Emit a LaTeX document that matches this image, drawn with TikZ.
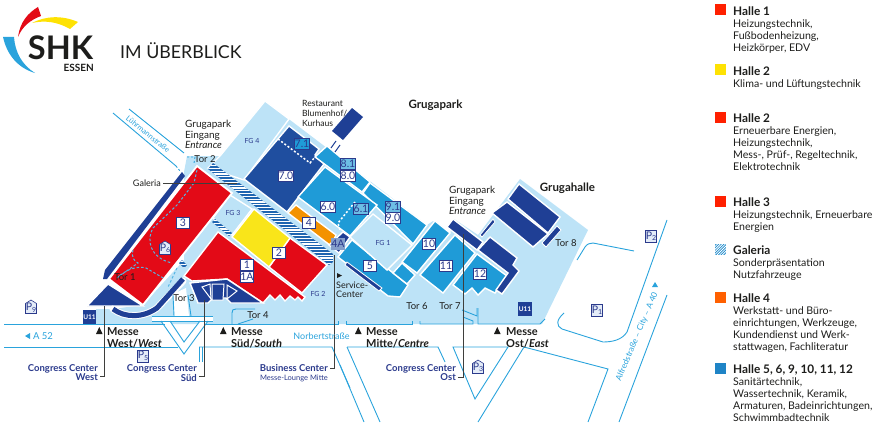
\documentclass[tikz,border=0pt]{standalone}
\usepackage{fontspec}
\setmainfont{Lato}
\definecolor{lightb}{HTML}{BDE3F7}
\definecolor{midb}{HTML}{1F9BD7}
\definecolor{navy}{HTML}{1F4E9F}
\definecolor{deepb}{HTML}{1F3F95}
\definecolor{hallred}{HTML}{E30A17}
\definecolor{hallyel}{HTML}{F9E51A}
\definecolor{hallora}{HTML}{F39200}
\definecolor{road}{HTML}{2AA3DC}
\definecolor{ink}{HTML}{1D1D1B}
\definecolor{congr}{HTML}{2B3A8C}
\definecolor{pfill}{HTML}{E4ECF8}
\tikzset{
 hall/.style={draw=white,line width=1.4pt,line join=miter},
 redhall/.style={hall,fill=hallred},
 midhall/.style={hall,fill=midb},
 darkhall/.style={hall,fill=deepb},
 lighthall/.style={hall,fill=lightb},
 roadline/.style={draw=road,line width=0.9pt},
 route/.style={draw=road!80!white,line width=1pt,dash pattern=on 2.5pt off 2pt},
 whitedots/.style={draw=white,line width=1.5pt,dash pattern=on 2pt off 2pt},
 leader/.style={draw=ink!85,line width=0.7pt},
 numbox/.style={draw=congr,line width=0.6pt,fill=white,text=congr,inner sep=0pt,minimum width=13pt,minimum height=11.5pt,font=\fontsize{10.5}{11}\selectfont},
 sub/.style={numbox,fill=midb!65!white},
 pbox/.style={draw=congr,line width=0.6pt,fill=pfill,text=congr,inner sep=0pt,minimum width=11pt,minimum height=12pt,font=\fontsize{10.5}{11}\selectfont},
 pplain/.style={pbox,draw=none,fill=none},
 blk/.style={anchor=north west,inner sep=0pt,align=left,text=ink},
 tor/.style={text=ink,inner sep=0pt,font=\fontsize{9.5}{11}\selectfont},
 fg/.style={text=congr,inner sep=0pt,font=\fontsize{7}{8}\selectfont},
 messe/.style={blk,font=\fontsize{11}{11}\selectfont\bfseries},
 congress/.style={anchor=north east,inner sep=0pt,align=right,text=congr,font=\fontsize{9.5}{8.7}\selectfont\bfseries},
 legend/.style={blk,font=\fontsize{10.6}{12}\selectfont},
 legendhead/.style={font=\fontsize{11.8}{12}\selectfont\bfseries},
 swatch/.style={minimum size=11pt,inner sep=0pt,anchor=north west},
 street/.style={text=road,inner sep=0pt},
 ubahn/.style={fill=deepb,text=white,inner sep=0pt,minimum width=13.5pt,minimum height=14pt,font=\fontsize{6.5}{7}\selectfont\bfseries},
}
\newcommand{\Pd}[1]{\raisebox{-1.5pt}{\fontsize{7}{7}\selectfont #1}}
\newcommand{\Hd}[1]{{\fontsize{11.8}{12}\selectfont\bfseries #1}}
\newcommand{\houseP}[4]{% x y name digit
 \draw[congr,line width=0.6pt,fill=pfill] (#1-5.5,#2+6.5) -- (#1+5.5,#2+6.5) -- (#1+5.5,#2-3.5) -- (#1,#2-7) -- (#1-5.5,#2-3.5) -- cycle;
 \node[pplain] (#3) at (#1,#2+0.5) {P\Pd{#4}};}
\begin{document}
\begin{tikzpicture}[x=1pt,y=-1pt]
\useasboundingbox (0,0) rectangle (885,428);
% ---- logo
\fill[hallred] (18,37) .. controls (20,22) and (28,13) .. (38,7) -- (41,16) .. controls (30,20) and (22,27) .. (18,37) -- cycle;
\fill[yellow!85!orange] (32,23) .. controls (45,16) and (62,15) .. (78,22) -- (70,29) .. controls (58,22) and (45,20) .. (32,23) -- cycle;
\fill[road] (3,37) -- (14,37) .. controls (15,52) and (22,65) .. (35,73) .. controls (18,68) and (7,55) .. (3,37) -- cycle;
\node[inner sep=0pt,text=ink,font=\fontsize{32.5}{33}\selectfont\bfseries] (shk) at (60.5,48) {SHK};
\node[inner sep=0pt,text=ink,font=\fontsize{10}{10}\selectfont\bfseries,anchor=east] (essen) at (94,68) {ESSEN};
\node[inner sep=0pt,text=ink,font=\fontsize{17.8}{18}\selectfont,anchor=west] (titel) at (120,50.5) {IM ÜBERBLICK};
% ---- ground
\fill[lightb] (187,156) -- (220,156) -- (265,101) -- (323,145) -- (427,225) -- (433,221) -- (450,234) -- (454,219) -- (478,235) -- (520,179) -- (588,230) -- (542,324) -- (96,324) -- (96,309) -- (112,309) -- (143,305) -- (184,260) -- (184,172) -- cycle;
\fill[white] (173,294) -- (174,316) -- (189,316) -- (186,288) -- cycle;
\draw[hall,fill=lightb] (265,101) -- (289,119) -- (244,180) -- (208,168) -- (220,156) -- cycle;
\draw[hall,fill=lightb] (230,195) -- (252,209) -- (232,235) -- (213,218) -- cycle;
% ---- galeria
\begin{scope}
\clip (213,163) -- (333,254) -- (333,262) -- (329,265) -- (208,169) -- cycle;
\fill[navy!70!midb] (200,160) rectangle (340,270);
\foreach \yy in {160,162.8,...,270} \draw[white,line width=1.1pt] (200,\yy) -- (340,\yy);
\end{scope}
\begin{scope}
\clip (212,222) -- (215,219) -- (232,233) -- (229,236) -- cycle;
\fill[navy!70!midb] (205,215) rectangle (235,240);
\foreach \yy in {215,217.8,...,240} \draw[white,line width=1.1pt] (205,\yy) -- (235,\yy);
\end{scope}
\begin{scope}
\clip (179,263) -- (182,260) -- (187,265) -- (184,268) -- cycle;
\fill[navy!70!midb] (175,255) rectangle (190,270);
\foreach \yy in {256,258.8,...,270} \draw[white,line width=1.1pt] (175,\yy) -- (190,\yy);
\end{scope}
% ---- west
\fill[deepb] (182,172) -- (185,176) -- (107,279) -- (103,279) -- (105,270) -- cycle;
\draw[darkhall] (87,306) -- (108,284) -- (143,306) -- cycle;
\draw[draw=white,line width=7pt,line cap=round] (113,309) .. controls (125,318) and (143,318) .. (157,308) -- (183,281);
\draw[draw=deepb,line width=5pt] (113,309) .. controls (125,318) and (143,318) .. (157,308) -- (183,279);
\draw[redhall,line width=1.8pt] (197,166) -- (232,193) -- (143,305) -- (109,279) -- cycle;
% ---- halls 1, 2
\draw[redhall] (218,232) -- (184,276) -- (192,281) -- (227,279) -- (263,303) -- (270,295) -- (275,300) -- (280,295) -- (285,301) -- (290,296) -- (295,300) -- (298,297) -- (302,301) -- (305,297) -- cycle;
\draw[redhall] (290,238) -- (327,265) -- (302,293) -- (269,267) -- cycle;
\draw[hall,fill=hallyel] (254,209) -- (290,238) -- (269,267) -- (232,237) -- cycle;
% ---- south building
\draw[darkhall] (190,283) -- (227,279) -- (263,303) -- (231,303) -- (226,298) -- (213,298) -- (208,303) -- (198,303) -- cycle;
\begin{scope}[draw=white,fill=deepb,line width=1pt]
\filldraw (202,287) -- (210,284) -- (211,299) -- cycle;
\filldraw (212,284) -- (224,284) -- (223,300) -- (212,300) -- cycle;
\filldraw (227,285) -- (237,291) -- (227,299) -- cycle;
\end{scope}
% ---- halls 7, 8, 9, 6, 4, 5
\draw[hall,fill=navy] (289,126) -- (319,149) -- (315,155) -- (324,164) -- (287,212) -- (244,179) -- cycle;
\draw[whitedots] (278,139) -- (310,163) -- (315,157);
\draw[midhall] (327,146) -- (370,182) -- (362,192) -- (315,157) -- cycle;
\draw[midhall] (370,183) -- (427,225) -- (413,244) -- (363,193) -- cycle;
\draw[midhall] (325,167) -- (377,205) -- (350,236) -- (298,197) -- cycle;
\draw[whitedots] (355,202) -- (338,223) -- (340,230);
\draw[hall,fill=hallora] (296,205) -- (336,235) -- (331,246) -- (288,213) -- cycle;
\draw[darkhall] (343,232) -- (350,237) -- (339,253) -- (329,245) -- cycle;
\draw[midhall] (352,240) -- (408,285) -- (400,297) -- (388,296) -- (338,257) -- cycle;
\draw[draw=white,fill=deepb,line width=.8pt] (347,262) -- (382,288) -- (379,291) -- (345,265) -- cycle;
\draw[lighthall] (373,214) -- (412,245) -- (387,270) -- (350,237) -- cycle;
\draw[midhall] (402,263) -- (415,275) -- (407,284) -- (393,273) -- cycle;
\draw[midhall] (435,221) -- (450,233) -- (417,273) -- (402,262) -- cycle;
\draw[midhall] (455,235) -- (475,253) -- (443,293) -- (420,275) -- cycle;
\draw[midhall] (477,254) -- (507,276) -- (495,293) -- (485,288) -- (478,295) -- (472,288) -- (465,294) -- (453,285) -- cycle;
\draw[darkhall] (453,219) -- (483,242) -- (477,250) -- (447,227) -- cycle;
\draw[darkhall] (490,237) -- (517,258) -- (513,265) -- (519,271) -- (502,294) -- (496,290) -- (508,273) -- (478,250) -- cycle;
\draw[darkhall] (519,184) -- (560,217) -- (548,233) -- (508,199) -- cycle;
\draw[darkhall] (507,202) -- (548,234) -- (533,247) -- (492,213) -- cycle;
\draw[darkhall,line width=.8pt] (557,226) -- (561,230) -- (546,247) -- (542,243) -- cycle;
\draw[darkhall,line width=.8pt] (493,219) -- (495,222) -- (482,237) -- (480,235) -- cycle;
% ---- restaurant
\fill[deepb] (352,108) -- (363,117) -- (343,140) -- (332,131) -- cycle;
\draw[deepb,line width=1pt] (336,141) -- (331,148);
\draw[deepb,line width=1pt] (340,145) -- (335,152);
% ---- streets
\draw[roadline] (113,113) -- (176,166);
\draw[roadline,dash pattern=on 2pt off 2pt] (176,166) -- (180,171);
\draw[roadline] (129,109) -- (184,153);
\draw[roadline,dash pattern=on 2pt off 2pt] (187,157) -- (195,157) -- (194,163);
\draw[roadline] (173,295) -- (174,316);
\draw[roadline] (188,295) -- (191,316);
\fill[white] (152,316) rectangle (213,321);
\fill[white] (161,321) -- (208,321) -- (184,354) -- cycle;
\fill[lightb] (170,321) -- (200,321) -- (198,324) -- (172,324) -- cycle;
\draw[roadline] (4,324) -- (165,324);
\draw[roadline] (205,324) -- (338,324) -- (338,321);
\draw[roadline] (346,321) -- (346,324) -- (412,324) -- (412,321);
\draw[roadline] (420,321) -- (420,324) -- (473,324) -- (473,321) -- (463,317);
\draw[roadline] (462,310) -- (477,316) -- (477,308);
\draw[roadline] (478,308) -- (478,324) -- (540,324) -- (545,319);
\draw[roadline] (4,347) -- (178,347);
\draw[roadline] (199,347) -- (332,347) -- (350,388);
\draw[roadline] (199,347) -- (199,362);
\draw[roadline] (202,347) -- (202,362);
\draw[roadline] (152,316) -- (213,316);
\draw[roadline] (152,321) -- (213,321);
\draw[roadline] (161,321) -- (184,354) -- (208,321);
\draw[roadline] (170,321) -- (184,342) -- (200,321);
\draw[roadline] (232,324) -- (232,313) .. controls (232,310) and (233,309) .. (236,309) -- (255,309);
\draw[roadline] (238,324) -- (253,319);
\draw[roadline] (347,347) -- (438,347) -- (445,362);
\draw[roadline] (347,347) -- (380,422);
\draw[roadline] (340,365) -- (364,422);
\draw[roadline] (453,347) -- (508,347) -- (475,399) -- cycle;
\draw[roadline] (478,422) -- (524,347) -- (608,369) -- (588,422);
\draw[roadline] (619,422) -- (667,295);
\draw[roadline] (667,220) -- (627,332) .. controls (622,340) and (612,342) .. (603,342) -- (562,329) .. controls (556,326) and (556,320) .. (564,313);
\draw[roadline] (577,260) -- (585,247) .. controls (587,244) and (590,243) .. (593,243) -- (634,251);
% ---- dashed routes
\draw[route] (197,170) -- (194,183) -- (177,205) -- (153,228) .. controls (146,240) and (150,258) .. (172,263);
\draw[route] (133,250) .. controls (131,257) and (134,261) .. (138,263) -- (118,277);
\draw[route] (117,278) .. controls (128,268) and (138,266) .. (146,268) -- (165,279);
\draw[route] (177,268) -- (168,287);
% ---- boxes
\node[numbox] (n3) at (183,223) {3};
\node[numbox] (n70) at (286,176) {7.0};
\node[numbox,fill=midb] (n71) at (302,144) {7.1};
\node[sub] (n81) at (348,164) {8.1};
\node[numbox] (n80) at (348,176) {8.0};
\node[sub] (n91) at (393,207) {9.1};
\node[numbox] (n90) at (393,218) {9.0};
\node[numbox] (n60) at (328,207) {6.0};
\node[sub] (n61) at (361,209) {6.1};
\node[numbox] (n4) at (309,223) {4};
\node[numbox,fill=navy!55!white,draw=navy!55!white] (n4a) at (338,244) {4A};
\node[numbox] (n5) at (370,266) {5};
\node[numbox] (n10) at (429,244) {10};
\node[numbox] (n11) at (446,266) {11};
\node[numbox] (n12) at (480,274) {12};
\node[numbox] (n2) at (279,253) {2};
\node[numbox] (n1) at (247,265) {1};
\node[numbox] (n1a) at (247,277) {1A};
\houseP{165}{248}{p6}{6}
\houseP{31}{307}{p9}{9}
\houseP{478}{367}{p3}{3}
\node[pbox] (p5) at (143,356) {P\Pd{5}};
\node[pbox] (p1) at (597,310) {P\Pd{1}};
\node[pbox] (p2) at (651,236) {P\Pd{2}};
\node[ubahn] (u1) at (89.5,317) {U11};
\node[ubahn] (u2) at (525,309) {U11};
% ---- small labels
\node[tor] (t1) at (125,277) {Tor 1};
\node[tor] (t2) at (205,159) {Tor 2};
\node[tor] (t3) at (184,298.5) {Tor 3};
\node[tor] (t4) at (258,315) {Tor 4};
\node[tor] (t6) at (417,306) {Tor 6};
\node[tor] (t7) at (450,306) {Tor 7};
\node[tor] (t8) at (566,243) {Tor 8};
\node[fg] (f4) at (252,141) {FG 4};
\node[fg] (f3) at (233,213) {FG 3};
\node[fg] (f2) at (318,294) {FG 2};
\node[fg] (f1) at (383,243) {FG 1};
\node[blk,font=\fontsize{10}{10.5}\selectfont] (ein1) at (185,120.3) {\strut Grugapark\\Eingang\\\textit{Entrance}};
\node[blk,font=\fontsize{10}{10.5}\selectfont] (ein2) at (449,186.3) {\strut Grugapark\\Eingang\\\textit{Entrance}};
\node[blk,font=\fontsize{8.6}{9.7}\selectfont] (rest) at (302,100) {\strut Restaurant\\Blumenhof/\\Kurhaus};
\node[inner sep=0pt,text=ink,font=\fontsize{11.5}{12}\selectfont\bfseries] (park) at (435.5,105) {Grugapark};
\node[inner sep=0pt,text=ink,font=\fontsize{11.5}{12}\selectfont\bfseries] (ghalle) at (567.5,188) {Grugahalle};
\node[inner sep=0pt,text=ink,font=\fontsize{9}{10}\selectfont,anchor=east] (gal) at (161,183) {Galeria};
\fill[ink] (337,273) -- (342,275.5) -- (337,278) -- cycle;
\node[blk,font=\fontsize{9}{9.5}\selectfont] (serv) at (336,281.5) {\strut Service-\\Center};
% ---- messe
\foreach \tx in {96,220,355,494} \fill[ink] (\tx,334) -- (\tx+3.3,327) -- (\tx+6.6,334) -- cycle;
\node[messe] (mw) at (107,327) {\strut Messe\\West/\textit{West}};
\node[messe] (ms) at (231,327) {\strut Messe\\Süd/\textit{South}};
\node[messe] (mm) at (366,327) {\strut Messe\\Mitte/\textit{Centre}};
\node[messe] (mo) at (506,327) {\strut Messe\\Ost/\textit{East}};
% ---- congress
\node[congress] (cw) at (98,364.5) {Congress Center\\West};
\node[congress] (cs) at (197,364.5) {Congress Center\\Süd};
\node[congress] (co) at (456,364.5) {Congress Center\\Ost};
\node[congress] (bc) at (328,364.5) {Business Center\\{\fontsize{7.5}{8.5}\selectfont\mdseries Messe-Lounge Mitte}};
% ---- leaders
\coordinate (cwtop) at (104.5,306);
\coordinate (cstop) at (204,300);
\coordinate (bctop) at (334.5,255);
\coordinate (cotop) at (463,234);
\coordinate (galend) at (237,183);
\draw[leader] (gal.east) ++(2,0) -- (galend);
\draw[leader] (100,376) -- (cwtop |- 0,376) -- (cwtop);
\draw[leader] (199,376) -- (cstop |- 0,376) -- (cstop);
\draw[leader] (330,368) -- (bctop |- 0,368) -- (bctop);
\draw[leader] (458,377) -- (cotop |- 0,377) -- (cotop);
% ---- street names
\fill[road] (25,336) -- (30,333) -- (30,339) -- cycle;
\node[street,font=\fontsize{9.5}{10}\selectfont] (a52) at (43,336) {A 52};
\node[street,font=\fontsize{9}{10}\selectfont] (norb) at (321.5,336) {Norbertstraße};
\node[street,font=\fontsize{8.3}{10}\selectfont,rotate=67] (alfred) at (637,337) {Alfredstraße – City – A 40};
\fill[road] (655,282) -- (658,287) -- (652,287) -- cycle;
\node[street,font=\fontsize{7.5}{10}\selectfont,rotate=-39] (luehr) at (148,134) {Lührmannstraße};
% ---- legend
\node[swatch,fill=red!75!orange] (s1) at (715,4) {};
\node[swatch,fill=yellow!85!orange] (s2) at (715,64) {};
\node[swatch,fill=red!75!orange] (s3) at (715,112) {};
\node[swatch,fill=red!75!orange] (s4) at (715,196) {};
\begin{scope}
\clip (715,244) rectangle (726,255);
\fill[midb!80!navy] (715,244) rectangle (726,255);
\foreach \k in {0,2.6,...,24} \draw[white,line width=.8pt] (715+\k,244) -- (715+\k-11,255);
\end{scope}
\node[swatch,fill=orange!75!red] (s6) at (715,292) {};
\node[swatch,fill=midb!70!navy] (s7) at (715,363) {};
\node[legend] (l1) at (733,6.6) {\strut\Hd{Halle 1}\\Heizungstechnik,\\Fußbodenheizung,\\Heizkörper, EDV};
\node[legend] (l2) at (733,66.6) {\strut\Hd{Halle 2}\\Klima- und Lüftungstechnik};
\node[legend] (l3) at (733,113.6) {\strut\Hd{Halle 2}\\Erneuerbare Energien,\\Heizungstechnik,\\Mess-, Prüf-, Regeltechnik,\\Elektrotechnik};
\node[legend] (l4) at (733,197.6) {\strut\Hd{Halle 3}\\Heizungstechnik, Erneuerbare\\Energien};
\node[legend] (l5) at (733,245.6) {\strut\Hd{Galeria}\\Sonderpräsentation\\Nutzfahrzeuge};
\node[legend] (l6) at (733,293.6) {\strut\Hd{Halle 4}\\Werkstatt- und Büro-\\einrichtungen, Werkzeuge,\\Kundendienst und Werk-\\stattwagen, Fachliteratur};
\node[legend] (l7) at (733,364.6) {\strut\Hd{Halle 5, 6, 9, 10, 11, 12}\\Sanitärtechnik,\\Wassertechnik, Keramik,\\Armaturen, Badeinrichtungen,\\Schwimmbadtechnik};
\end{tikzpicture}
\end{document}
